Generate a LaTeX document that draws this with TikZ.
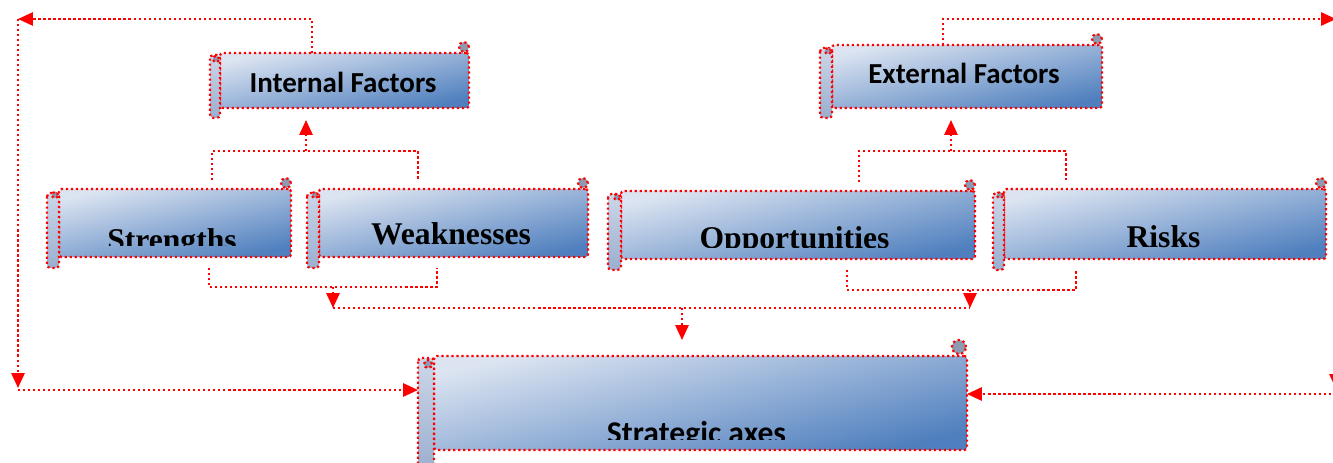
\documentclass[tikz,border=0pt]{standalone}
\usepackage{fontspec}
\setmainfont{Liberation Serif}
\newfontfamily\carlito{Carlito}
\usetikzlibrary{calc}
\usetikzlibrary{arrows.meta}
\definecolor{boxlight}{HTML}{DCE4F1}
\definecolor{boxdark}{HTML}{4F7FBE}
\definecolor{rollblue}{HTML}{A7B7D2}
\definecolor{curlgray}{HTML}{8C9AB2}
\definecolor{linkred}{HTML}{FF0000}
\tikzset{
    scrollmain/.style = {rectangle, rounded corners=1.5pt, inner sep=0, outer sep=0, draw=linkred, line width=1.25pt, dash pattern=on 1.25pt off 1.6pt, top color=boxlight, bottom color=boxdark, shading angle=13},
    scrollroll/.style = {draw=linkred, line width=1.25pt, dash pattern=on 1.25pt off 1.6pt, top color=boxlight!70!rollblue, bottom color=rollblue!85!boxdark, rounded corners=2pt},
    scrollcurl/.style = {draw=linkred, line width=1.25pt, dash pattern=on 1.25pt off 1.6pt, fill=curlgray},
    sanslbl/.style = {anchor=base, inner sep=0, font=\carlito\bfseries\fontsize{16.5}{18}\selectfont},
    seriflbl/.style = {anchor=base, inner sep=0, font=\bfseries\fontsize{18}{20}\selectfont},
    linkdot/.style = {-, linkred, line width=1.25pt, dash pattern=on 1.25pt off 1.6pt},
    linkarr/.style = {linkdot, -{Triangle[length=8.5pt,width=7.5pt]}},
}

\begin{document}
\begin{tikzpicture}[x=0.02cm,y=-0.02cm]
\useasboundingbox (0,0) rectangle (1333,463);

% scrolls
\node[scrollmain, minimum width=4.98cm, minimum height=1.1cm] (int) at (344.5,80.5) {};
\draw[scrollroll] ($(int.north west)+(-10,2)$) rectangle ($(int.south west)+(0,10)$);
\draw[scrollcurl] ($(int.north west)+(-4,6)$) circle (0.06cm);
\draw[scrollcurl] ($(int.north east)+(-5,-6)$) circle (0.1cm);

\node[scrollmain, minimum width=5.4cm, minimum height=1.26cm] (ext) at (967,76.5) {};
\draw[scrollroll] ($(ext.north west)+(-12,3)$) rectangle ($(ext.south west)+(0,10)$);
\draw[scrollcurl] ($(ext.north west)+(-4,6)$) circle (0.06cm);
\draw[scrollcurl] ($(ext.north east)+(-5,-6)$) circle (0.1cm);

\node[scrollmain, minimum width=4.64cm, minimum height=1.36cm] (str) at (175,223) {};
\draw[scrollroll] ($(str.north west)+(-12,4)$) rectangle ($(str.south west)+(0,11)$);
\draw[scrollcurl] ($(str.north west)+(-4,6)$) circle (0.06cm);
\draw[scrollcurl] ($(str.north east)+(-5,-6)$) circle (0.1cm);

\node[scrollmain, minimum width=5.38cm, minimum height=1.36cm] (wea) at (453.5,223) {};
\draw[scrollroll] ($(wea.north west)+(-12,4)$) rectangle ($(wea.south west)+(0,11)$);
\draw[scrollcurl] ($(wea.north west)+(-4,6)$) circle (0.06cm);
\draw[scrollcurl] ($(wea.north east)+(-5,-6)$) circle (0.1cm);

\node[scrollmain, minimum width=7.08cm, minimum height=1.36cm] (opp) at (798,225) {};
\draw[scrollroll] ($(opp.north west)+(-13,3)$) rectangle ($(opp.south west)+(0,11)$);
\draw[scrollcurl] ($(opp.north west)+(-4,6)$) circle (0.06cm);
\draw[scrollcurl] ($(opp.north east)+(-5,-6)$) circle (0.1cm);

\node[scrollmain, minimum width=6.44cm, minimum height=1.4cm] (ris) at (1165,224) {};
\draw[scrollroll] ($(ris.north west)+(-11,4)$) rectangle ($(ris.south west)+(0,11)$);
\draw[scrollcurl] ($(ris.north west)+(-4,6)$) circle (0.06cm);
\draw[scrollcurl] ($(ris.north east)+(-5,-6)$) circle (0.1cm);

\node[scrollmain, minimum width=10.66cm, minimum height=1.88cm] (sta) at (700.5,403) {};
\draw[scrollroll] ($(sta.north west)+(-16,2)$) rectangle ($(sta.south west)+(0,22)$);
\draw[scrollcurl] ($(sta.north west)+(-6,8)$) circle (0.08cm);
\draw[scrollcurl] ($(sta.north east)+(-8,-9)$) circle (0.14cm);

% labels, cut at the inner edge
\begin{scope}
\clip (int.north west) rectangle ($(int.south east)+(0,-11)$);
\node[sanslbl] (intlbl) at (343,92) {Internal Factors};
\end{scope}
\begin{scope}
\clip (ext.north west) rectangle ($(ext.south east)+(0,-11)$);
\node[sanslbl] (extlbl) at (964,83) {External Factors};
\end{scope}
\begin{scope}
\clip (str.north west) rectangle ($(str.south east)+(0,-11)$);
\node[seriflbl] (strlbl) at (172,250) {Strengths};
\end{scope}
\begin{scope}
\clip (wea.north west) rectangle ($(wea.south east)+(0,-11)$);
\node[seriflbl] (wealbl) at (451,244) {Weaknesses};
\end{scope}
\begin{scope}
\clip (opp.north west) rectangle ($(opp.south east)+(0,-11)$);
\node[seriflbl] (opplbl) at (794.5,248) {Opportunities};
\end{scope}
\begin{scope}
\clip (ris.north west) rectangle ($(ris.south east)+(0,-11)$);
\node[seriflbl] (rislbl) at (1163.5,247) {Risks};
\end{scope}
\begin{scope}
\clip (sta.north west) rectangle ($(sta.south east)+(0,-10)$);
\node[sanslbl, font=\carlito\bfseries\fontsize{18}{20}\selectfont] (stalbl) at (696.5,443.5) {Strategic axes};
\end{scope}

% outer loops
\coordinate (itop) at (312,19);
\coordinate (lcorner) at (18,19);
\coordinate (ldown) at (18,388);
\coordinate (lbottom) at (18,390);
\coordinate (staroll) at ($(sta.west)+(-16,0)$);
\draw[linkarr] (int.north -| itop) -- (itop) -- (lcorner);
\draw[linkarr] (lcorner) -- (ldown);
\draw[linkarr] (lbottom) -- (lbottom -| staroll);

\coordinate (etop) at (943,19);
\coordinate (rcorner) at (1336,19);
\coordinate (rdown) at (1336,389);
\coordinate (rbottom) at (1336,394);
\draw[linkarr] (ext.north -| etop) -- (etop) -- (rcorner);
\draw[linkarr] (rcorner) -- (rdown);
\draw[linkarr] (rbottom) -- (sta.east |- rbottom);

% up to the factors
\coordinate (ijoin) at (306,151);
\coordinate (sup) at (212,151);
\coordinate (wup) at (418,151);
\draw[linkdot] ($(str.north -| sup)+(0,-9)$) -- (sup) -- (wup) -- ($(wea.north -| wup)+(0,-9)$);
\draw[linkarr] (ijoin) -- ($(int.south -| ijoin)+(0,12)$);

\coordinate (ejoin) at (951,151);
\coordinate (oup) at (859,151);
\coordinate (rup) at (1066,151);
\draw[linkdot] ($(opp.north -| oup)+(0,-9)$) -- (oup) -- (rup) -- ($(ris.north -| rup)+(0,-9)$);
\draw[linkarr] (ejoin) -- ($(ext.south -| ejoin)+(0,12)$);

% down to the axes
\coordinate (sdown) at (209,287);
\coordinate (wdown) at (437,287);
\coordinate (swjoin) at (333,287);
\draw[linkdot] ($(str.south -| sdown)+(0,11)$) -- (sdown) -- (wdown) -- ($(wea.south -| wdown)+(0,11)$);

\coordinate (odown) at (847,290);
\coordinate (rdn) at (1076,290);
\coordinate (orjoin) at (970,290);
\draw[linkdot] ($(opp.south -| odown)+(0,11)$) -- (odown) -- (rdn) -- ($(ris.south -| rdn)+(0,11)$);

\coordinate (hleft) at (333,308);
\coordinate (hright) at (970,308);
\coordinate (hmid) at (682,308);
\draw[linkdot] (hleft) -- (hright);
\draw[linkarr] (swjoin) -- (hleft);
\draw[linkarr] (orjoin) -- (hright);
\draw[linkarr] (hmid) -- ($(sta.north -| hmid)+(0,-16)$);

\end{tikzpicture}
\end{document}
